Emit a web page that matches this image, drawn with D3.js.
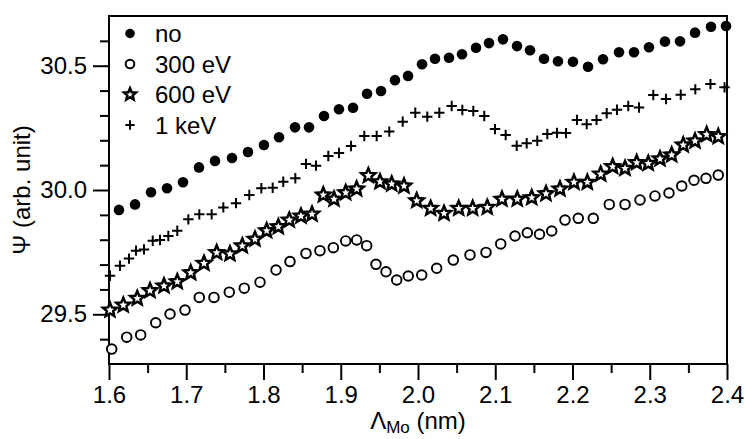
<!DOCTYPE html>
<html>
  <head>
    <meta charset="utf-8">
    <script src="https://cdn.jsdelivr.net/npm/d3@7"></script>
    <style>
      body { margin: 0; background: #fff; }
      text { font-family: "Liberation Sans", Arial, sans-serif; fill: #000; }
    </style>
  </head>
  <body>
    <script type="text/javascript">
      // series: "no"
      var xNo = [1.6129,1.6337,1.6544,1.6751,1.6958,1.7165,1.7372,1.7592,1.7799,1.8006,1.8201,1.8408,1.8589,1.8783,1.8977,1.9159,1.9340,1.9521,1.9702,1.9871,2.0052,2.0220,2.0401,2.0570,2.0751,2.0919,2.1100,2.1282,2.1450,2.1631,2.1812,2.2006,2.2201,2.2395,2.2602,2.2796,2.2990,2.3197,2.3392,2.3586,2.3793,2.3987];
      var yNo = [29.920,29.942,29.991,30.007,30.031,30.091,30.117,30.129,30.153,30.181,30.212,30.252,30.252,30.298,30.325,30.331,30.387,30.398,30.442,30.459,30.506,30.528,30.532,30.546,30.572,30.591,30.606,30.579,30.562,30.528,30.518,30.516,30.496,30.526,30.554,30.554,30.574,30.597,30.598,30.633,30.657,30.660];

      // series: 300 eV
      var x300 = [1.6035,1.6229,1.6410,1.6605,1.6790,1.6984,1.7169,1.7359,1.7557,1.7751,1.7955,1.8162,1.8343,1.8550,1.8731,1.8904,1.9064,1.9206,1.9336,1.9456,1.9586,1.9724,1.9874,2.0048,2.0242,2.0457,2.0673,2.0880,2.1071,2.1256,2.1415,2.1573,2.1731,2.1903,2.2075,2.2269,2.2476,2.2680,2.2874,2.3068,2.3249,2.3414,2.3573,2.3728,2.3887];
      var y300 = [29.360,29.408,29.417,29.466,29.501,29.517,29.568,29.568,29.589,29.605,29.629,29.678,29.712,29.745,29.756,29.768,29.795,29.799,29.776,29.701,29.671,29.638,29.654,29.658,29.685,29.718,29.739,29.749,29.783,29.815,29.828,29.822,29.835,29.879,29.886,29.886,29.942,29.942,29.960,29.976,29.988,30.016,30.039,30.047,30.060];

      // series: 600 eV
      var x600 = [1.6013,1.6185,1.6366,1.6531,1.6712,1.6884,1.7058,1.7230,1.7394,1.7566,1.7726,1.7890,1.8041,1.8192,1.8334,1.8485,1.8628,1.8774,1.8913,1.9064,1.9206,1.9357,1.9508,1.9660,1.9819,1.9983,2.0164,2.0337,2.0527,2.0708,2.0897,2.1087,2.1285,2.1472,2.1657,2.1838,2.2019,2.2192,2.2365,2.2520,2.2680,2.2831,2.2981,2.3133,2.3284,2.3434,2.3586,2.3737,2.3887];
      var y600 = [29.517,29.537,29.564,29.595,29.614,29.631,29.667,29.705,29.748,29.743,29.775,29.802,29.836,29.852,29.879,29.895,29.903,29.980,29.963,29.989,30.004,30.058,30.033,30.024,30.016,29.957,29.926,29.906,29.926,29.926,29.930,29.963,29.963,29.969,29.985,30.004,30.031,30.031,30.064,30.094,30.087,30.110,30.107,30.125,30.141,30.181,30.197,30.223,30.215];

      // series: 1 keV
      var x1k = [1.6013,1.6142,1.6259,1.6350,1.6453,1.6566,1.6660,1.6768,1.6884,1.7027,1.7169,1.7329,1.7480,1.7644,1.7816,1.7972,1.8119,1.8256,1.8412,1.8550,1.8680,1.8839,1.8977,1.9133,1.9305,1.9465,1.9628,1.9802,1.9965,2.0120,2.0276,2.0436,2.0574,2.0716,2.0858,2.0997,2.1135,2.1278,2.1407,2.1544,2.1674,2.1799,2.1916,2.2058,2.2184,2.2311,2.2443,2.2576,2.2722,2.2861,2.3046,2.3210,2.3401,2.3590,2.3786,2.3968];
      var y1k = [29.655,29.695,29.724,29.756,29.761,29.796,29.799,29.815,29.836,29.882,29.902,29.902,29.930,29.947,29.980,30.007,30.009,30.033,30.047,30.105,30.098,30.137,30.149,30.177,30.217,30.217,30.235,30.275,30.311,30.295,30.311,30.338,30.322,30.318,30.298,30.245,30.221,30.178,30.188,30.198,30.225,30.230,30.229,30.282,30.265,30.282,30.309,30.323,30.338,30.332,30.382,30.366,30.383,30.405,30.426,30.413];

      var legendLabels = ["no", "300 eV", "600 eV", "1 keV"];
      var xMajor = [1.6,1.7,1.8,1.9,2.0,2.1,2.2,2.3,2.4];
      var xMinor = [1.65,1.75,1.85,1.95,2.05,2.15,2.25,2.35];
      var yMajor = [29.5,30.0,30.5];
      var yMinor = [29.4,29.6,29.7,29.8,29.9,30.1,30.2,30.3,30.4,30.6];

      var W = 746, H = 439;
      var m = {top: 16, right: 19, bottom: 75, left: 109};
      var w = W - m.left - m.right;
      var h = H - m.top - m.bottom;

      var svg = d3.select("body").append("svg")
          .attr("width", W)
          .attr("height", H);

      var g = svg.append("g")
          .attr("transform", "translate(" + m.left + "," + m.top + ")");

      var x = d3.scaleLinear().domain([1.6, 2.4]).range([0, w]);
      var y = d3.scaleLinear().domain([29.3, 30.7]).range([h, 0]);

      // axes (major + minor ticks)
      function styleAxis(sel) {
        sel.select(".domain").remove();
        sel.selectAll(".tick line").attr("stroke", "#000").attr("stroke-width", 2);
        sel.selectAll("text").attr("font-size", "24px")
           .style("font-family", "'Liberation Sans', Arial, sans-serif").attr("fill", "#000");
      }

      g.append("g").attr("transform", "translate(0," + h + ")")
        .call(d3.axisBottom(x).tickValues(xMajor).tickSize(16).tickPadding(6).tickFormat(d3.format(".1f")))
        .call(styleAxis);
      g.append("g").attr("transform", "translate(0," + h + ")")
        .call(d3.axisBottom(x).tickValues(xMinor).tickSize(9).tickFormat(""))
        .call(styleAxis);
      g.append("g")
        .call(d3.axisLeft(y).tickValues(yMajor).tickSize(16).tickPadding(6).tickFormat(d3.format(".1f")))
        .call(styleAxis);
      g.append("g")
        .call(d3.axisLeft(y).tickValues(yMinor).tickSize(9).tickFormat(""))
        .call(styleAxis);

      // frame
      g.append("rect")
        .attr("x", 0).attr("y", 0)
        .attr("width", w).attr("height", h)
        .attr("fill", "none").attr("stroke", "#000").attr("stroke-width", 2);

      // marker shapes
      function starPath(R, r) {
        var pts = [];
        for (var i = 0; i < 10; i++) {
          var a = -Math.PI / 2 + i * Math.PI / 5;
          var rr = i % 2 === 0 ? R : r;
          pts.push([rr * Math.cos(a), rr * Math.sin(a)]);
        }
        return "M" + pts.map(function(p){ return p[0].toFixed(2) + "," + p[1].toFixed(2); }).join("L") + "Z";
      }
      function plusPath(s) {
        return "M" + (-s) + ",0H" + s + "M0," + (-s) + "V" + s;
      }

      var markers = [
        function(sel, s) { sel.append("circle").attr("r", 5.3 * s).attr("fill", "#000"); },
        function(sel, s) { sel.append("circle").attr("r", 4.8 * s).attr("fill", "#fff").attr("stroke", "#000").attr("stroke-width", 1.9); },
        function(sel, s) { sel.append("path").attr("d", starPath(7.4 * s, 3.3 * s)).attr("fill", "#fff").attr("stroke", "#000").attr("stroke-width", 2.5).attr("stroke-linejoin", "miter"); },
        function(sel, s) { sel.append("path").attr("d", plusPath(5.2 * s)).attr("stroke", "#000").attr("stroke-width", 2).attr("fill", "none"); }
      ];

      var series = [
        {xs: xNo, ys: yNo},
        {xs: x300, ys: y300},
        {xs: x600, ys: y600},
        {xs: x1k, ys: y1k}
      ];

      // draw 1 keV first, stars over circles
      [3, 1, 2, 0].forEach(function(k) {
        var s = series[k];
        var pts = s.xs.map(function(d, i){ return [d, s.ys[i]]; });
        g.append("g").selectAll("g")
          .data(pts)
          .enter()
          .append("g")
            .attr("transform", function(d){ return "translate(" + x(d[0]) + "," + y(d[1]) + ")"; })
            .each(function(){ markers[k](d3.select(this), 1); });
      });

      // legend
      var leg = svg.append("g");
      legendLabels.forEach(function(lbl, i) {
        var ly = 33.5 + i * 30.5;
        var mk = leg.append("g").attr("transform", "translate(130," + ly + ")");
        markers[i](mk, i === 2 ? 0.85 : 0.9);
        leg.append("text")
          .attr("x", 155).attr("y", ly + 8.5)
          .attr("font-size", "24px")
          .text(lbl);
      });

      // axis titles
      var xt = svg.append("text")
        .attr("x", m.left + w / 2).attr("y", 429)
        .attr("text-anchor", "middle")
        .attr("font-size", "24px");
      xt.append("tspan").text("\u039B");
      xt.append("tspan").attr("font-size", "17px").attr("dy", 4).text("Mo");
      xt.append("tspan").attr("dy", -4).text(" (nm)");

      svg.append("text")
        .attr("transform", "translate(30," + (m.top + h / 2) + ") rotate(-90)")
        .attr("text-anchor", "middle")
        .attr("font-size", "24px")
        .text("\u03A8 (arb. unit)");
    </script>
  </body>
</html>
